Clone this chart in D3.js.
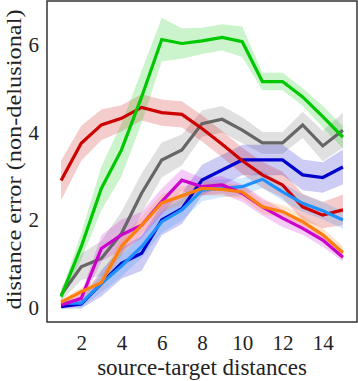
<!DOCTYPE html>
<html>
<meta charset="utf-8">
<script src="https://d3js.org/d3.v7.js"></script>
<style>
  body { margin: 0; background: #fff; }
  text { font-family: "Liberation Serif", "DejaVu Serif", serif; fill: #222; }
</style>
<body>
<div id="my_dataviz"></div>
<script>
// x values: source-target distance
var distances = [1, 2, 3, 4, 5, 6, 7, 8, 9, 10, 11, 12, 13, 14, 15];

// mean errors, one array per run
var greenMean   = [0.25, 1.39, 2.72, 3.6, 4.81, 6.12, 6.03, 6.09, 6.17, 6.07, 5.16, 5.16, 4.81, 4.36, 3.89];
var redMean     = [2.9, 3.75, 4.17, 4.32, 4.57, 4.45, 4.41, 4.09, 3.73, 3.35, 3.03, 2.8, 2.3, 2.11, 2.23];
var grayMean    = [0.29, 0.93, 1.12, 1.69, 2.61, 3.37, 3.6, 4.2, 4.3, 4.05, 3.76, 3.76, 4.17, 3.69, 4.05];
var navyMean    = [0.02, 0.08, 0.55, 1.01, 1.24, 2.0, 2.26, 2.91, 3.14, 3.37, 3.37, 3.37, 3.03, 2.97, 3.21];
var blueMean    = [0.1, 0.1, 0.55, 0.95, 1.39, 1.96, 2.23, 2.68, 2.72, 2.76, 2.93, 2.64, 2.38, 2.21, 2.0];
var magentaMean = [0.06, 0.21, 1.35, 1.66, 1.88, 2.42, 2.91, 2.76, 2.8, 2.61, 2.3, 2.04, 1.81, 1.54, 1.15];
var orangeMean  = [0.12, 0.36, 0.57, 1.4, 1.88, 2.39, 2.55, 2.72, 2.7, 2.64, 2.3, 2.19, 1.96, 1.66, 1.25];

// half-width of shaded bands
var greenErr   = [0.1, 0.3, 0.5, 0.6, 0.6, 0.5, 0.35, 0.3, 0.3, 0.35, 0.2, 0.2, 0.2, 0.25, 0.25];
var redErr     = [0.45, 0.4, 0.35, 0.3, 0.3, 0.3, 0.3, 0.3, 0.3, 0.3, 0.3, 0.3, 0.3, 0.3, 0.35];
var grayErr    = [0.15, 0.3, 0.4, 0.5, 0.45, 0.4, 0.35, 0.3, 0.3, 0.3, 0.25, 0.25, 0.3, 0.35, 0.4];
var navyErr    = [0.05, 0.1, 0.3, 0.35, 0.4, 0.35, 0.35, 0.35, 0.35, 0.35, 0.35, 0.35, 0.35, 0.35, 0.4];
var blueErr    = [0.05, 0.1, 0.2, 0.25, 0.25, 0.25, 0.25, 0.25, 0.2, 0.2, 0.2, 0.2, 0.2, 0.2, 0.2];
var magentaErr = [0.05, 0.1, 0.3, 0.35, 0.3, 0.3, 0.25, 0.2, 0.2, 0.2, 0.2, 0.2, 0.15, 0.15, 0.1];
var orangeErr  = [0.05, 0.1, 0.15, 0.2, 0.2, 0.2, 0.2, 0.15, 0.15, 0.15, 0.15, 0.15, 0.15, 0.15, 0.15];

var xTicks = [2, 4, 6, 8, 10, 12, 14];
var yTicks = [0, 2, 4, 6];

var series = [
  {color: "#666666", mean: grayMean, err: grayErr},
  {color: "#0000cc", mean: navyMean, err: navyErr},
  {color: "#cc0000", mean: redMean, err: redErr},
  {color: "#1e90ff", mean: blueMean, err: blueErr},
  {color: "#cc00cc", mean: magentaMean, err: magentaErr},
  {color: "#ff7f0e", mean: orangeMean, err: orangeErr},
  {color: "#00c800", mean: greenMean, err: greenErr}
];

var W = 358, H = 381;
var margin = {top: 1, right: 1, bottom: 59, left: 47},
    width = W - margin.left - margin.right,
    height = H - margin.top - margin.bottom;

var svg = d3.select("#my_dataviz")
  .append("svg")
    .attr("width", W)
    .attr("height", H)
  .append("g")
    .attr("transform", "translate(" + margin.left + "," + margin.top + ")");

var x = d3.scaleLinear().domain([0.3, 15.7]).range([0, width]);
var y = d3.scaleLinear().domain([-0.33, 7.0]).range([height, 0]);

// axes without tick lines
var xAxis = svg.append("g")
  .attr("transform", "translate(0," + height + ")")
  .call(d3.axisBottom(x).tickValues(xTicks).tickSize(0).tickPadding(13));
var yAxis = svg.append("g")
  .call(d3.axisLeft(y).tickValues(yTicks).tickSize(0).tickPadding(8));
[xAxis, yAxis].forEach(function(a) {
  a.select(".domain").remove();
  a.selectAll("text").style("font-family", '"Liberation Serif", serif').style("font-size", "21px").attr("fill", "#222");
});

var area = d3.area()
  .x(function(d, i) { return x(distances[i]); })
  .y0(function(d) { return y(d[0] - d[1]); })
  .y1(function(d) { return y(d[0] + d[1]); });
var line = d3.line()
  .x(function(d, i) { return x(distances[i]); })
  .y(function(d) { return y(d); });

series.forEach(function(s) {
  svg.append("path")
    .datum(s.mean.map(function(m, i) { return [m, s.err[i]]; }))
    .attr("d", area)
    .attr("fill", s.color)
    .attr("fill-opacity", 0.2);
});
series.forEach(function(s) {
  svg.append("path")
    .datum(s.mean)
    .attr("d", line)
    .attr("fill", "none")
    .attr("stroke", s.color)
    .attr("stroke-width", 3.2)
    .attr("stroke-linejoin", "miter");
});

// frame
svg.append("rect")
  .attr("x", 0).attr("y", 0)
  .attr("width", width).attr("height", height)
  .attr("fill", "none")
  .attr("stroke", "#333")
  .attr("stroke-width", 1.5);

svg.append("text")
  .attr("x", width / 2)
  .attr("y", height + 53)
  .attr("text-anchor", "middle")
  .style("font-size", "23px")
  .text("source-target distances");

svg.append("text")
  .attr("transform", "translate(" + (-26) + "," + (height / 2 - 2) + ") rotate(-90)")
  .attr("text-anchor", "middle")
  .style("font-size", "22px")
  .attr("textLength", 300)
  .attr("lengthAdjust", "spacingAndGlyphs")
  .text("distance error (non-delusional)");
</script>
</body>
</html>
